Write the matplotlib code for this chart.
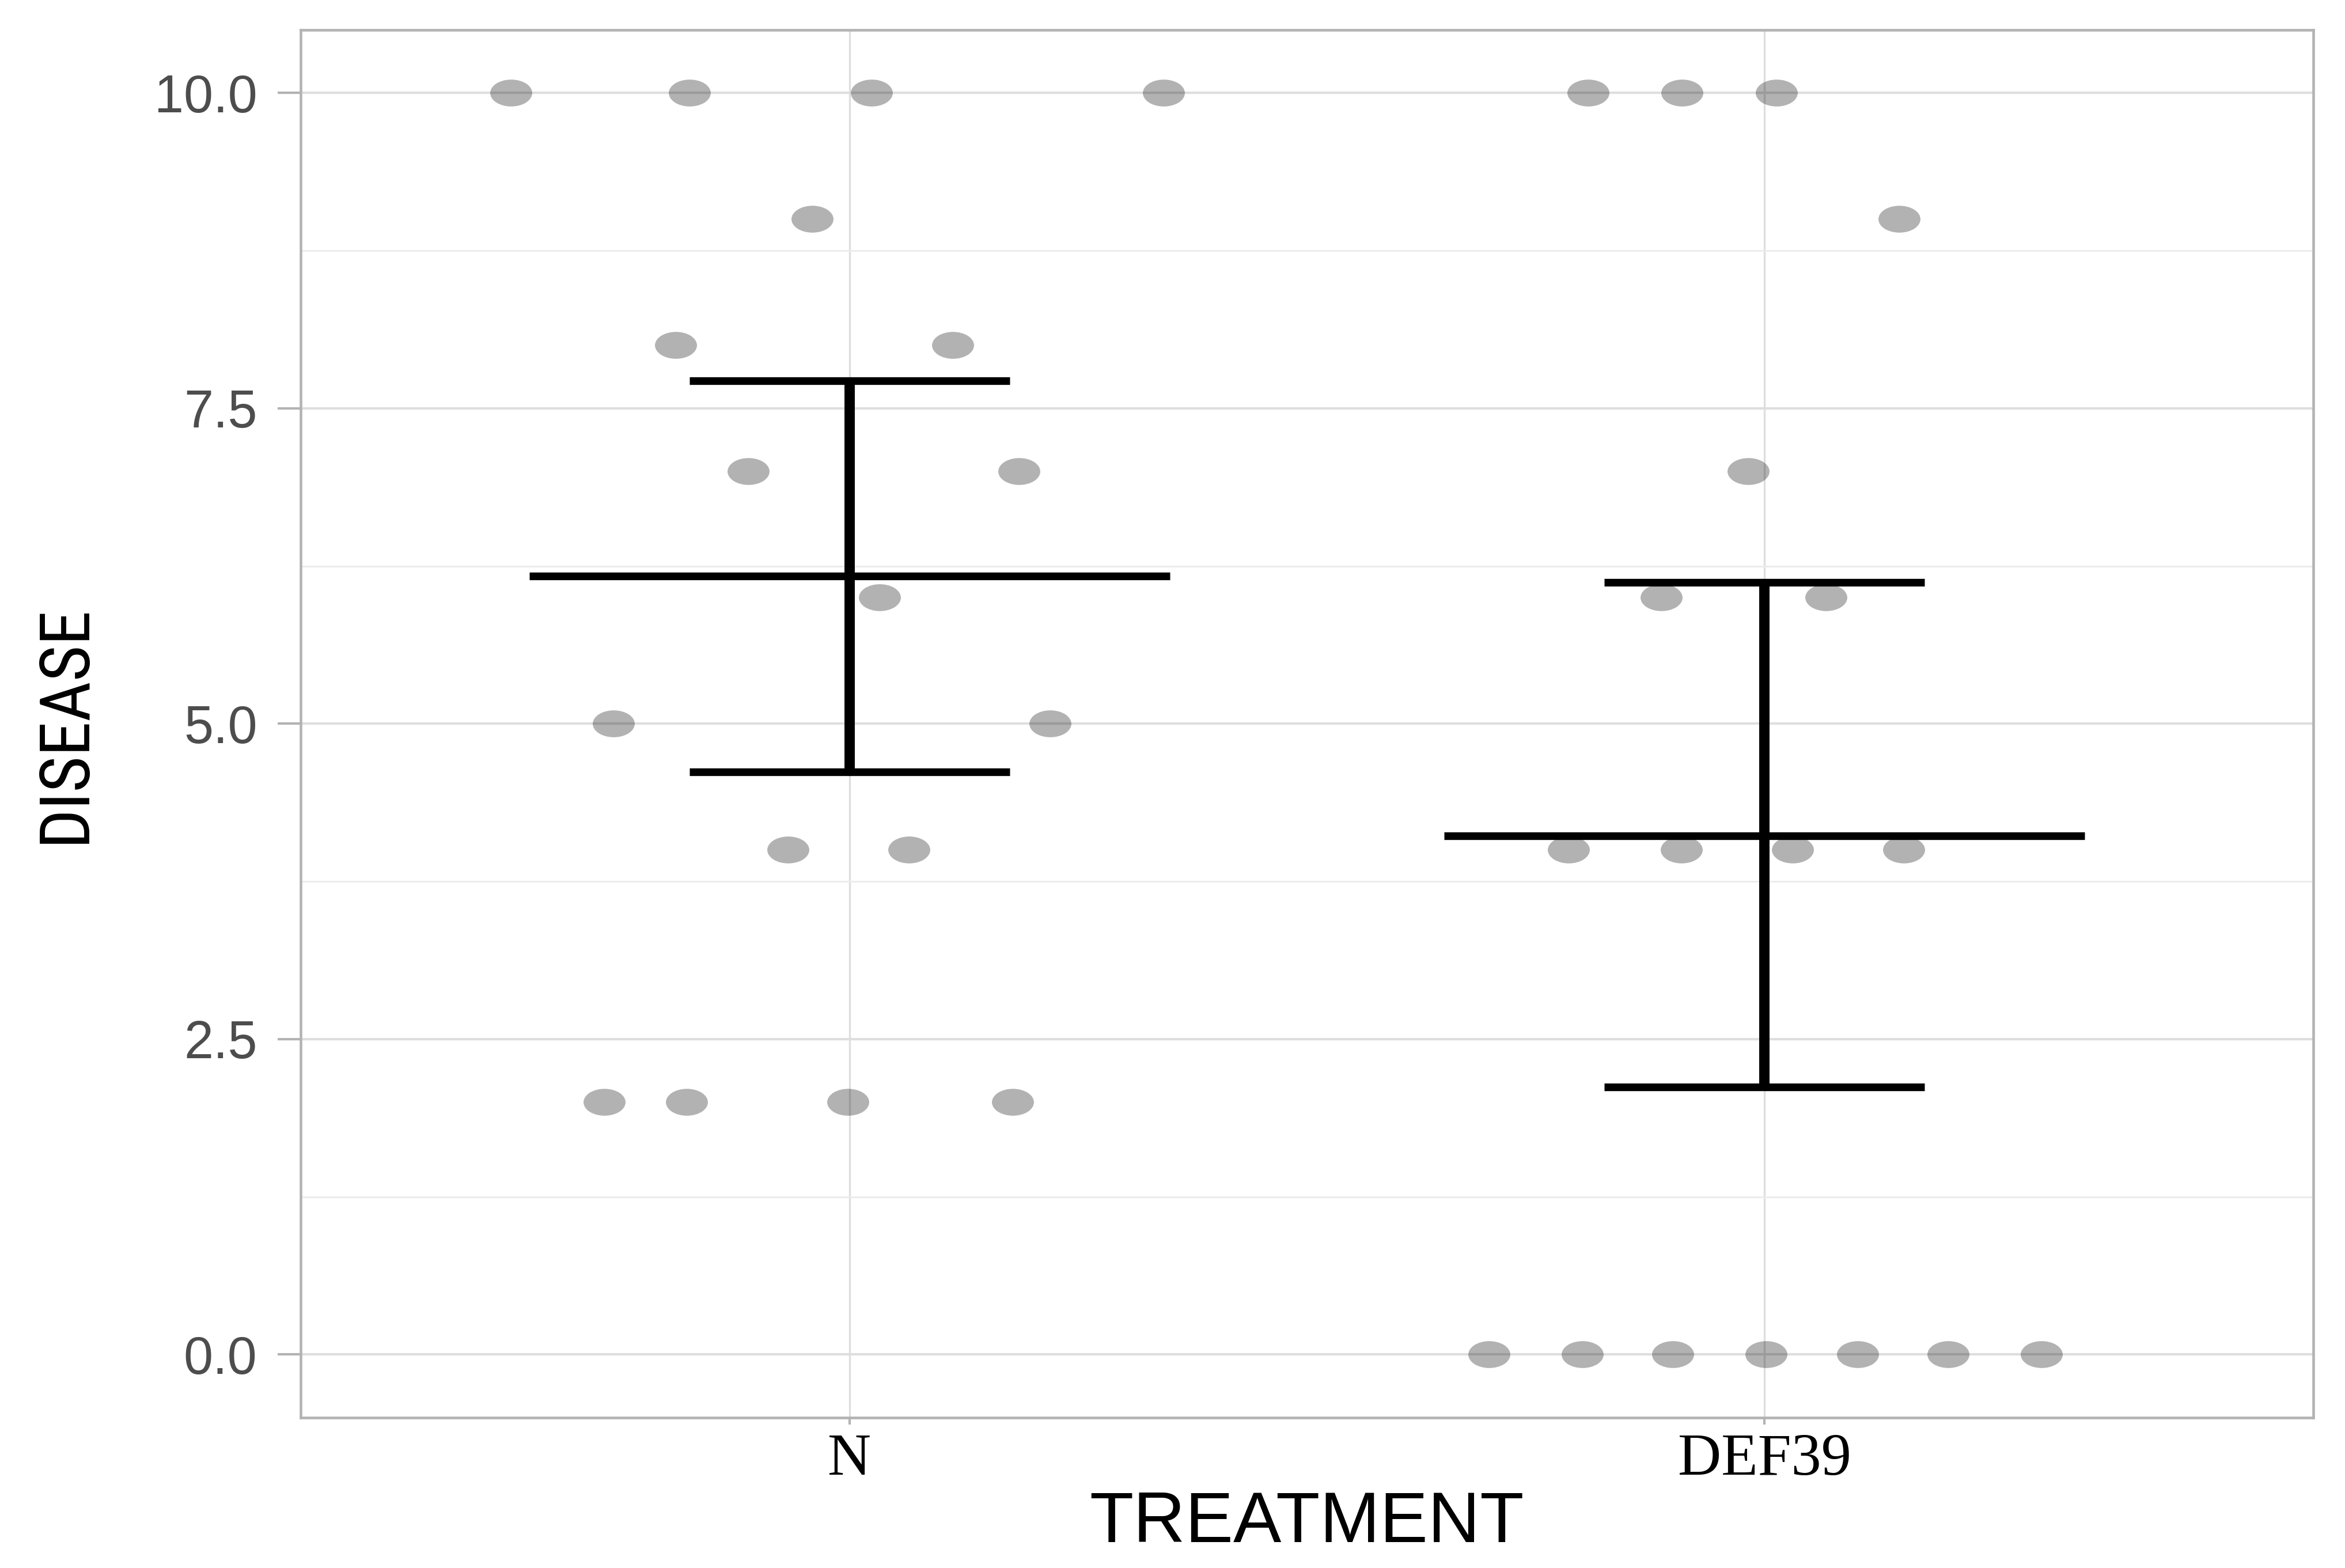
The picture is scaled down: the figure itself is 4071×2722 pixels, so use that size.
import matplotlib.pyplot as plt
import numpy as np
from matplotlib.path import Path
from matplotlib.transforms import Affine2D

# data
treatments = ['N', 'DEF39']

n_disease = [10, 10, 10, 10, 9, 8, 8, 7, 7, 6, 5, 5, 4, 4, 2, 2, 2, 2]
n_jitter_x = [0.630, 0.825, 1.024, 1.343, 0.959, 0.810, 1.113, 0.889, 1.185,
              1.033, 0.742, 1.219, 0.933, 1.065, 0.732, 0.822, 0.998, 1.178]

def39_disease = [10, 10, 10, 9, 7, 6, 6, 4, 4, 4, 4, 0, 0, 0, 0, 0, 0, 0]
def39_jitter_x = [1.807, 1.910, 2.013, 2.147, 1.982, 1.887, 2.067, 1.786, 1.909,
                  2.031, 2.152, 1.699, 1.801, 1.900, 2.002, 2.102, 2.201, 2.303]

means = [6.17, 4.11]
ci_low = [4.62, 2.12]
ci_high = [7.72, 6.12]

GRID_MAJOR = '#dedede'
GRID_MINOR = '#ececec'
BORDER = '#b3b3b3'

fig = plt.figure(figsize=(4071 / 300, 2722 / 300), dpi=300)
ax = fig.add_axes([0.1282, 0.0959, 0.8583, 0.8850])

# ellipse shaped point (the source picture is stretched sideways)
ellipse = Path.unit_circle().transformed(Affine2D().scale(1.0, 0.64))

ax.scatter(n_jitter_x, n_disease, marker=ellipse, s=17.5 ** 2,
           color='black', alpha=0.3, linewidths=0, zorder=3)
ax.scatter(def39_jitter_x, def39_disease, marker=ellipse, s=17.5 ** 2,
           color='black', alpha=0.3, linewidths=0, zorder=3)

pos = np.arange(1, len(treatments) + 1)
ax.hlines(means, pos - 0.35, pos + 0.35, color='black', lw=3.2, zorder=4)
ax.hlines(ci_low, pos - 0.175, pos + 0.175, color='black', lw=3.2, zorder=4)
ax.hlines(ci_high, pos - 0.175, pos + 0.175, color='black', lw=3.2, zorder=4)
ax.vlines(pos, ci_low, ci_high, color='black', lw=4.3, zorder=4)

ax.set_xlim(0.4, 2.6)
ax.set_ylim(-0.5, 10.5)
ax.set_xticks(pos)
ax.set_xticklabels(treatments, family='Liberation Serif', fontsize=25, color='black')
ax.set_yticks([0, 2.5, 5, 7.5, 10])
ax.set_yticklabels(['0.0', '2.5', '5.0', '7.5', '10.0'],
                   family='Liberation Sans', fontsize=22, color='#4d4d4d')
ax.set_yticks([1.25, 3.75, 6.25, 8.75], minor=True)

ax.tick_params(axis='y', which='major', length=9.6, width=1.0, color=BORDER, pad=8.5)
ax.tick_params(axis='y', which='minor', length=0)
ax.tick_params(axis='x', which='major', length=2.9, width=1.0, color=BORDER, pad=3.5)

ax.grid(True, which='major', axis='y', color=GRID_MAJOR, lw=1.0, zorder=0)
ax.grid(True, which='minor', axis='y', color=GRID_MINOR, lw=0.7, zorder=0)
ax.grid(True, which='major', axis='x', color=GRID_MAJOR, lw=0.8, zorder=0)
ax.set_axisbelow(True)

for sp in ax.spines.values():
    sp.set_color(BORDER)
    sp.set_linewidth(1.1)

ax.set_xlabel('TREATMENT', family='Liberation Sans', fontsize=30, color='black',
              va='center', ha='center')
ax.xaxis.set_label_coords(0.5, -0.0765)
ax.set_ylabel('DISEASE', family=['Liberation Sans Narrow', 'Roboto Condensed', 'Liberation Sans'],
              fontsize=29, color='black', va='center', ha='center')
ax.yaxis.set_label_coords(-0.1168, 0.5)

fig.savefig('out.png', dpi=300)
